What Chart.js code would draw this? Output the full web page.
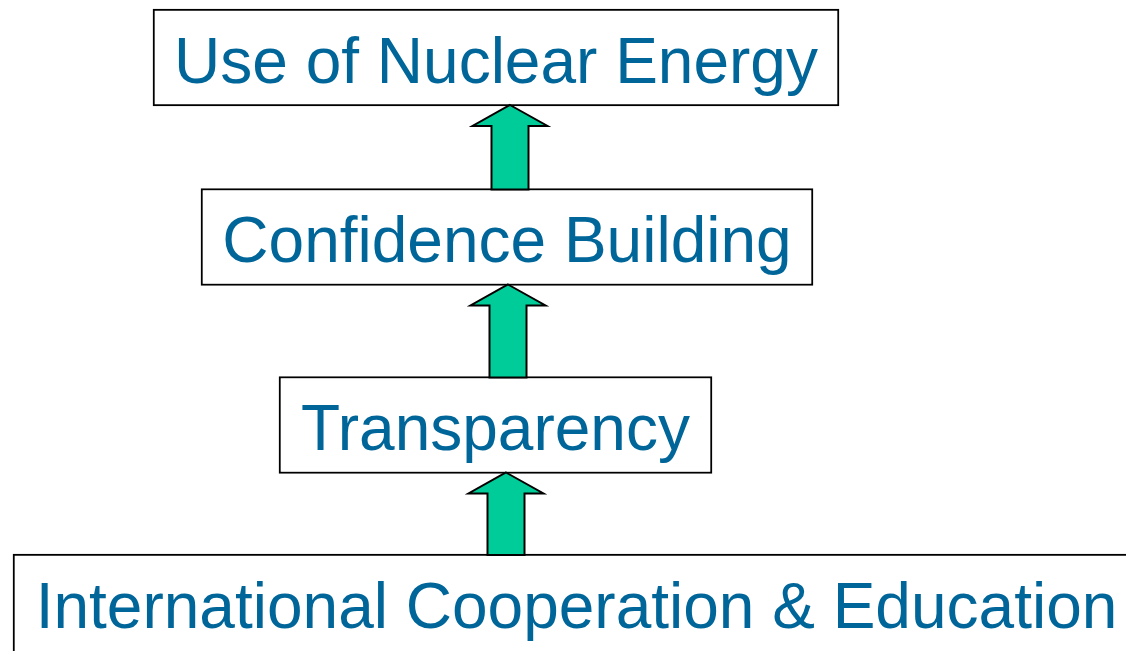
<!DOCTYPE html>
<html>
<head>
<meta charset="utf-8">
<script src="https://cdn.jsdelivr.net/npm/chart.js@4/dist/chart.umd.min.js"></script>
<style>
  html, body { margin: 0; padding: 0; background: #ffffff; overflow: hidden; }
  #wrap { width: 1126px; height: 651px; position: relative; }
</style>
</head>
<body>
<div id="wrap"><canvas id="c"></canvas></div>
<script>
// ---- data ----
const stages = [
  "Use of Nuclear Energy",
  "Confidence Building",
  "Transparency",
  "International Cooperation & Education"
];
const spanStart = [153, 201, 279, 13];
const spanEnd   = [839, 813, 712, 1140];
const levels    = [57.5, 237, 425, 609];
const arrowAt   = [510, 508, 506];

const boxData = stages.map((s, i) => ({ x: [spanStart[i], spanEnd[i]], y: levels[i] }));

const labelAndArrows = {
  id: 'labelAndArrows',
  afterDatasetsDraw(chart) {
    const ctx = chart.ctx;
    const xs = chart.scales.x;
    const els = [];
    chart.data.datasets.forEach((ds, di) => {
      chart.getDatasetMeta(di).data.forEach(e => els.push(e.getProps(['x', 'y', 'base', 'height'], true)));
    });
    for (let i = 0; i < arrowAt.length; i++) {
      const upper = els[i], lower = els[i + 1];
      const cx = xs.getPixelForValue(arrowAt[i]);
      const tipY = upper.y + upper.height / 2 - 1;
      const headY = tipY + 21;
      const botY = lower.y - lower.height / 2 + 1;
      const hw = 37.5, sw = 18.5;
      ctx.save();
      ctx.beginPath();
      ctx.moveTo(cx, tipY);
      ctx.lineTo(cx + hw, headY);
      ctx.lineTo(cx + sw, headY);
      ctx.lineTo(cx + sw, botY);
      ctx.lineTo(cx - sw, botY);
      ctx.lineTo(cx - sw, headY);
      ctx.lineTo(cx - hw, headY);
      ctx.closePath();
      ctx.fillStyle = '#00CC99';
      ctx.fill();
      ctx.lineWidth = 2;
      ctx.lineJoin = 'miter';
      ctx.strokeStyle = '#000000';
      ctx.stroke();
      ctx.restore();
    }
    ctx.save();
    ctx.font = '64px "Liberation Sans", Arial, sans-serif';
    ctx.fillStyle = '#006699';
    ctx.textAlign = 'center';
    ctx.textBaseline = 'alphabetic';
    els.forEach((e, i) => {
      const cx = (e.x + e.base) / 2;
      const top = e.y - e.height / 2;
      ctx.fillText(stages[i], cx, top + 73.5);
    });
    ctx.restore();
  }
};

new Chart(document.getElementById('c'), {
  type: 'bar',
  data: {
    datasets: [{
      data: boxData.slice(0, 3),
      backgroundColor: '#ffffff',
      borderColor: '#000000',
      borderWidth: 2,
      borderSkipped: false,
      barThickness: 97,
      grouped: false
    }, {
      data: boxData.slice(3),
      backgroundColor: '#ffffff',
      borderColor: '#000000',
      borderWidth: 2,
      borderSkipped: false,
      barThickness: 110,
      grouped: false
    }]
  },
  options: {
    indexAxis: 'y',
    responsive: true,
    maintainAspectRatio: false,
    animation: false,
    layout: { padding: 0 },
    plugins: { legend: { display: false }, tooltip: { enabled: false } },
    scales: {
      x: { type: 'linear', min: 0, max: 1126, display: false, offset: false },
      y: { type: 'linear', min: 0, max: 651, reverse: true, display: false, offset: false }
    }
  },
  plugins: [labelAndArrows]
});
</script>
</body>
</html>
